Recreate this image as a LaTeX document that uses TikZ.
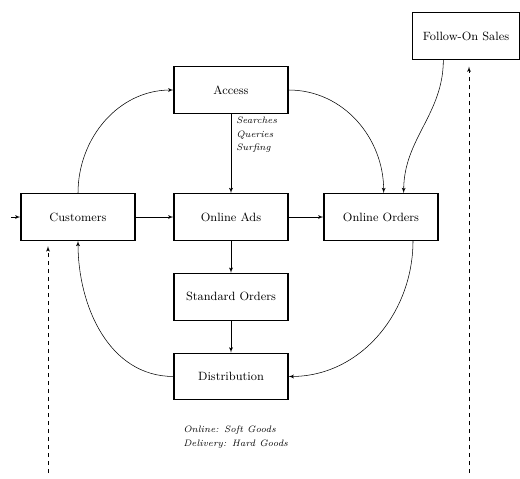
\documentclass[tikz,border=0pt]{standalone}
\usepackage{tikz}
\usetikzlibrary{positioning}
\usetikzlibrary{shapes,arrows}

\tikzset{block/.style={draw, thick, rectangle, fill=white, inner sep=0pt,
    minimum width=85.5pt, minimum height=35pt, font=\small},
  note/.style={font=\fontsize{7}{10}\selectfont\itshape, align=left, inner sep=0pt}}

\begin{document}
\begin{tikzpicture}[auto, x=0.75pt, y=-0.75pt, node distance=24pt, >=latex']
		\useasboundingbox (0,0) rectangle (520,478);

		% Middle row
		\node [block] (customers) at (78,217) {Customers};
		\node [block] (ads) at (231,217) {Online Ads};
		\node [block] (orders) at (381,217) {Online Orders};

		% Top
		\node [block] (access) at (231,90) {Access};
		\node [block, minimum width=80pt] (followon) at (466,36) {Follow-On Sales};

		% Column below the ads
		\node [block] (standard) [below=of ads] {Standard Orders};
		\node [block] (distribution) [below=of standard] {Distribution};

		% Notes
		\node [note, anchor=north west] (searches) at (236,117) {Searches\\Queries\\Surfing};
		\node [note, anchor=north west] (goods) at (183,426) {Online: Soft Goods\\Delivery: Hard Goods};

		% Straight flows
		\draw [->] (customers) -- (ads);
		\draw [->] (ads) -- (orders);
		\draw [->] (access) -- (ads);
		\draw [->] (ads) -- (standard);
		\draw [->] (standard) -- (distribution);

		% Curved flows
		\draw [->] (customers.north) to [out=90, in=180] (access.west);
		\draw [->] (access.east) to [out=0, in=90] ([xshift=2pt]orders.north);
		\draw [->] ([xshift=-17pt]followon.south) to [out=-90, in=90, looseness=1] ([xshift=17pt]orders.north);
		\draw [->] ([xshift=24pt]orders.south) to [out=-90, in=0] (distribution.east);
		\draw [->] (distribution.west) to [out=180, in=-90] (customers.south);

		% Input into customers
		\coordinate (in) at (11,217);
		\draw [->] (in) -- (customers.west);

		% Dashed feedback lines
		\coordinate (leftbase) at (48,473);
		\coordinate (rightbase) at (469,473);
		\draw [dashed, ->, shorten >=4pt] (leftbase) -- (leftbase |- customers.south);
		\draw [dashed, ->, shorten >=5pt] (rightbase) -- (rightbase |- followon.south);
	\end{tikzpicture}
\end{document}
